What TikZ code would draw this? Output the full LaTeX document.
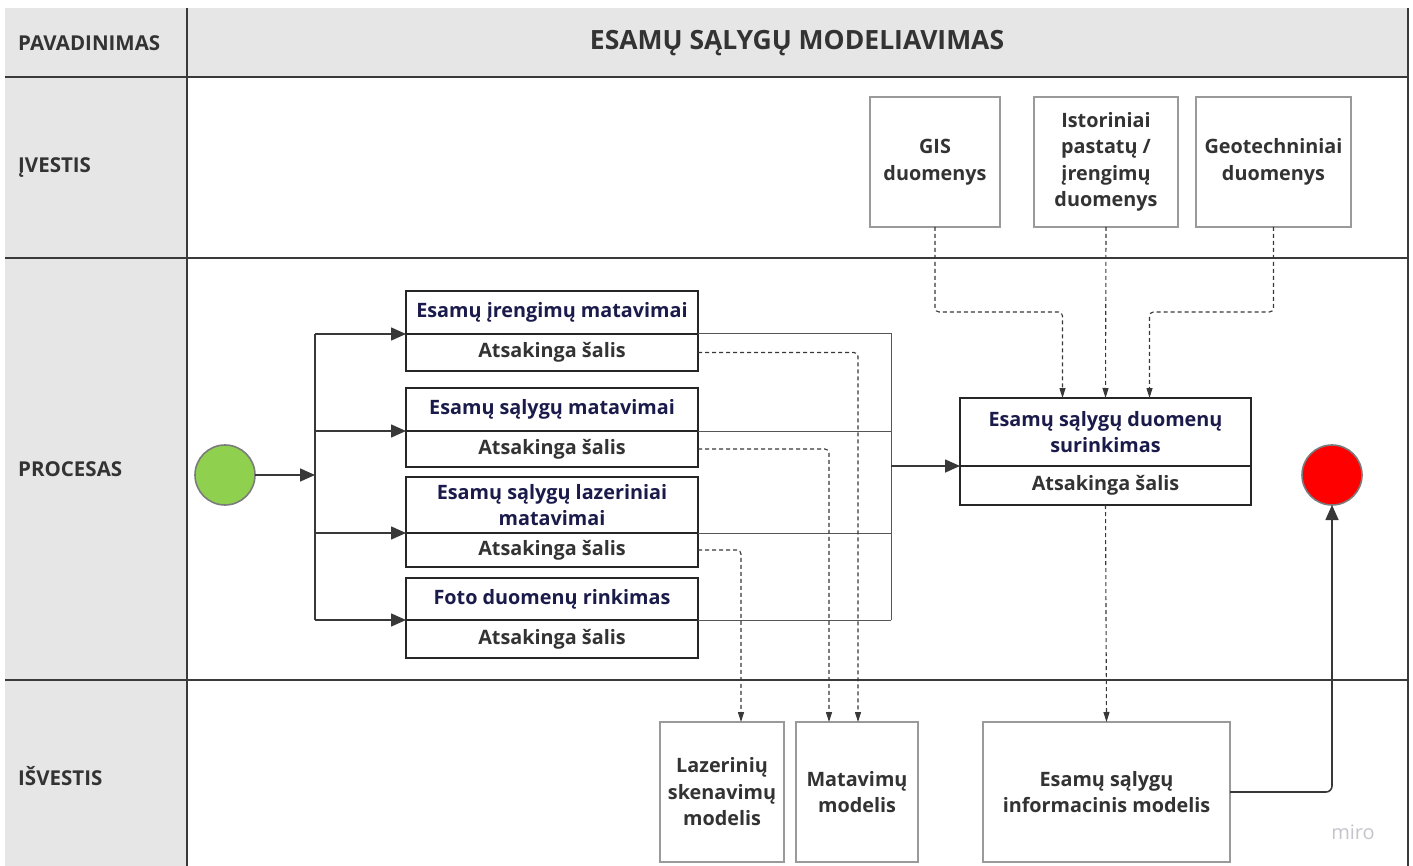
\documentclass[tikz,border=0pt]{standalone}
\usepackage{fontspec}
\setmainfont{Open Sans}
\usetikzlibrary{arrows.meta}
\definecolor{lanefill}{HTML}{E6E6E6}
\definecolor{lanec}{HTML}{3A3A3A}
\definecolor{boxgray}{HTML}{9A9A9A}
\definecolor{boxdark}{HTML}{262626}
\definecolor{txt}{HTML}{333333}
\definecolor{navy}{HTML}{1B1B4B}
\definecolor{flowc}{HTML}{383838}
\definecolor{startg}{HTML}{8FD14F}
\definecolor{endr}{HTML}{FF0000}
\definecolor{mirog}{HTML}{C4C4CC}
\newcommand{\lblfont}{\bfseries\fontsize{19.8}{26.5}\selectfont}
\newcommand{\lanefont}{\bfseries\fontsize{20.5}{26}\selectfont}
\newcommand{\ttlfont}{\bfseries\fontsize{26.5}{30}\selectfont}
\tikzset{
  lanelabel/.style={anchor=west, inner sep=0pt, font=\lanefont, text=txt},
  inbox/.style={draw=boxgray, line width=1.6pt, fill=white, anchor=north west, inner sep=0pt, outer sep=0pt, align=center, font=\lblfont, text=txt},
  ptitle/.style={draw=boxdark, line width=1.7pt, fill=white, anchor=north west, inner sep=0pt, outer sep=0pt, align=center, font=\lblfont, text=navy, minimum width=292pt},
  pres/.style={draw=boxdark, line width=1.7pt, fill=white, anchor=north west, inner sep=0pt, outer sep=0pt, align=center, font=\lblfont, text=txt, minimum width=292pt},
  flow/.style={draw=flowc, line width=1.6pt, -{Triangle[length=15pt,width=13pt]}},
  busline/.style={draw=flowc, line width=1.6pt},
  thinbus/.style={draw=flowc!85, line width=1pt},
  dflow/.style={draw=flowc, line width=1.1pt, dash pattern=on 4pt off 3pt, -{Triangle[length=10pt,width=6pt]}, rounded corners=4pt},
  event/.style={circle, draw=boxgray!80!black, line width=1.6pt, minimum size=60pt, inner sep=0pt, outer sep=0pt}
}
\begin{document}
\begin{tikzpicture}[x=1pt,y=-1pt]
\useasboundingbox (0,0) rectangle (1413,866);
% lane table
\fill[lanefill] (5,8) rectangle (1408,77);
\fill[lanefill] (5,77) rectangle (187,866);
\draw[lanec, line width=1.2pt] (187,8) -- (187,866);
\draw[lanec, line width=1.2pt] (1408,8) -- (1408,866);
\draw[lanec, line width=1.2pt] (5,77) -- (1408,77);
\draw[lanec, line width=1.2pt] (5,258) -- (1408,258);
\draw[lanec, line width=1.2pt] (5,680) -- (1408,680);
\node[lanelabel] (lpav) at (18,43) {PAVADINIMAS};
\node[lanelabel] (livs) at (18,168) {ĮVESTIS};
\node[lanelabel] (lproc) at (18,469) {PROCESAS};
\node[lanelabel] (lisv) at (18,776) {IŠVESTIS};
\node[font=\ttlfont, text=txt, inner sep=0pt] (title) at (797,43) {ESAMŲ SĄLYGŲ MODELIAVIMAS};
% inputs
\node[inbox, minimum width=130pt, minimum height=130pt] (gis) at (870,97) {GIS\\duomenys};
\node[inbox, minimum width=144pt, minimum height=130pt] (hist) at (1034,97) {Istoriniai\\pastatų /\\įrengimų\\duomenys};
\node[inbox, minimum width=155pt, minimum height=130pt] (geo) at (1196,97) {Geotechniniai\\duomenys};
% process boxes
\node[ptitle, minimum height=43pt] (p1t) at (406,291) {Esamų įrengimų matavimai};
\node[pres, minimum height=37pt] (p1b) at (406,334) {Atsakinga šalis};
\node[ptitle, minimum height=43pt] (p2t) at (406,388) {Esamų sąlygų matavimai};
\node[pres, minimum height=36pt] (p2b) at (406,431) {Atsakinga šalis};
\node[ptitle, minimum height=56pt] (p3t) at (406,477) {Esamų sąlygų lazeriniai\\matavimai};
\node[pres, minimum height=34pt] (p3b) at (406,533) {Atsakinga šalis};
\node[ptitle, minimum height=42pt] (p4t) at (406,578) {Foto duomenų rinkimas};
\node[pres, minimum height=38pt] (p4b) at (406,620) {Atsakinga šalis};
\node[ptitle, minimum width=291pt, minimum height=68pt] (c1t) at (960,398) {Esamų sąlygų duomenų\\surinkimas};
\node[pres, minimum width=291pt, minimum height=39pt] (c1b) at (960,466) {Atsakinga šalis};
% outputs
\node[inbox, minimum width=124pt, minimum height=140pt] (laz) at (660,722) {Lazerinių\\skenavimų\\modelis};
\node[inbox, minimum width=122pt, minimum height=140pt] (mat) at (796,722) {Matavimų\\modelis};
\node[inbox, minimum width=247pt, minimum height=140pt] (info) at (983,722) {Esamų sąlygų\\informacinis modelis};
% events
\node[event, fill=startg] (start) at (225,475) {};
\node[event, fill=endr] (finish) at (1332,475) {};
\node[font=\fontsize{20}{22}\selectfont, text=mirog, inner sep=0pt] (miro) at (1353,832) {miro};
% left split
\coordinate (lbus) at (315,475);
\coordinate (rbus) at (891,466);
\coordinate (jy) at (0,312);
\draw[flow] (start) -- (lbus);
\draw[busline] (lbus |- p1t.south west) -- (lbus |- p4t.south west);
\draw[flow] (lbus |- p1t.south west) -- (p1t.south west);
\draw[flow] (lbus |- p2t.south west) -- (p2t.south west);
\draw[flow] (lbus |- p3t.south west) -- (p3t.south west);
\draw[flow] (lbus |- p4t.south west) -- (p4t.south west);
% right merge
\draw[thinbus] (p1t.south east) -- (rbus |- p1t.south east) -- (rbus |- p4t.south east);
\draw[thinbus] (p2t.south east) -- (rbus |- p2t.south east);
\draw[thinbus] (p3t.south east) -- (rbus |- p3t.south east);
\draw[thinbus] (p4t.south east) -- (rbus |- p4t.south east);
\draw[flow] (rbus) -- (c1t.south west);
% inputs to collection
\draw[dflow] (gis.south) -- (gis.south |- jy) -| ([xshift=-43pt]c1t.north);
\draw[dflow] (hist.south) -- (c1t.north);
\draw[dflow] (geo.south) -- (geo.south |- jy) -| ([xshift=44pt]c1t.north);
% responsible to outputs
\draw[dflow] (p1b.east) -| ([xshift=1pt]mat.north);
\draw[dflow] (p2b.east) -| ([xshift=-28pt]mat.north);
\draw[dflow] (p3b.east) -| ([xshift=19pt]laz.north);
\draw[dflow] (c1b.south) -- (info.north);
% to end
\draw[flow, rounded corners=6pt] (info.east) -| (finish.south);
\end{tikzpicture}
\end{document}
